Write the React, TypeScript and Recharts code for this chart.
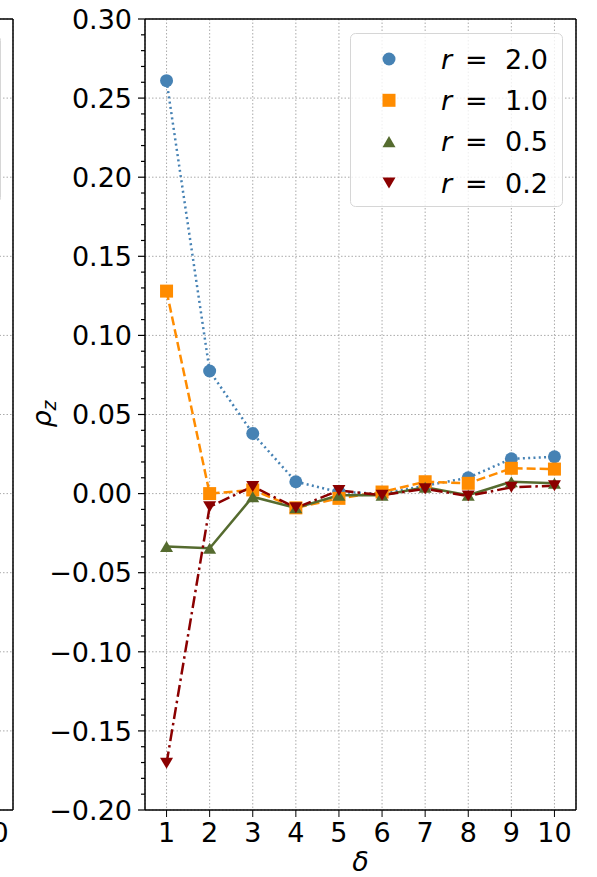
import { LineChart, Line, XAxis, YAxis, CartesianGrid, ReferenceLine, Legend } from 'recharts'

const deltas = [1, 2, 3, 4, 5, 6, 7, 8, 9, 10]
const r20 = [0.261, 0.0775, 0.038, 0.0075, 0.001, 0.0, 0.005, 0.01, 0.022, 0.0233]
const r10 = [0.128, 0.0, 0.0023, -0.009, -0.003, 0.001, 0.0075, 0.0065, 0.016, 0.0155]
const r05 = [-0.0335, -0.0345, -0.002, -0.009, -0.001, -0.001, 0.004, -0.001, 0.0075, 0.0065]
const r02 = [-0.1705, -0.0083, 0.0045, -0.009, 0.002, -0.001, 0.003, -0.0015, 0.004, 0.005]

const yMajor = [-0.2, -0.15, -0.1, -0.05, 0, 0.05, 0.1, 0.15, 0.2, 0.25, 0.3]
// minor ticks every 0.01
const yMinor = Array.from({ length: 51 }, (_, i) => Math.round((-0.2 + i * 0.01) * 100) / 100)
// the neighbouring subplot only shows the end of its last tick label
const leftTicks = [10]

const series = [
  { key: 'r20', label: '2.0', color: '#4682b4', shape: 'circle', dash: '2 3.3' },
  { key: 'r10', label: '1.0', color: '#ff8c00', shape: 'square', dash: '9 4' },
  { key: 'r05', label: '0.5', color: '#556b2f', shape: 'up', dash: undefined },
  { key: 'r02', label: '0.2', color: '#8b0000', shape: 'down', dash: '12 4 2.5 4' },
]

const data = deltas.map((d, i) => ({ delta: d, r20: r20[i], r10: r10[i], r05: r05[i], r02: r02[i] }))

const FONT = 'DejaVu Sans'
const FS = 27

const fmt = (v: number) => {
  const s = Math.abs(v) < 1e-9 ? '0.00' : v.toFixed(2)
  return s.replace('-', '\u2212')
}

const marker = (shape: string, cx: number, cy: number, s: number, color: string, key?: string) => {
  if (shape === 'circle') return <circle key={key} cx={cx} cy={cy} r={s / 2} fill={color} />
  if (shape === 'square') return <rect key={key} x={cx - s / 2} y={cy - s / 2} width={s} height={s} fill={color} />
  const h = s * 0.85
  if (shape === 'up')
    return <polygon key={key} points={`${cx},${cy - h / 2} ${cx - s / 2},${cy + h / 2} ${cx + s / 2},${cy + h / 2}`} fill={color} />
  return <polygon key={key} points={`${cx},${cy + h / 2} ${cx - s / 2},${cy - h / 2} ${cx + s / 2},${cy - h / 2}`} fill={color} />
}

const YTick = ({ x, y, payload }: any) => {
  const v = payload.value
  const major = Math.abs(Math.round(v * 100)) % 5 === 0
  return (
    <g>
      <line x1={x - (major ? 7 : 4)} x2={x} y1={y} y2={y} stroke="#000" strokeWidth={1.2} />
      {major && (
        <text x={x - 13} y={y} dy="0.36em" textAnchor="end" fontSize={FS} fontFamily={FONT} fill="#000">
          {fmt(v)}
        </text>
      )}
    </g>
  )
}

const YLabel = () => (
  <text x={51} y={414} transform="rotate(-90 51 414)" textAnchor="middle" fontSize={FS} fontFamily={FONT} fill="#000">
    <tspan fontStyle="italic">ρ</tspan>
    <tspan fontStyle="italic" fontSize={19} dy={5}>z</tspan>
  </text>
)

const XLabel = (props: any) => {
  const vb = props.viewBox
  return (
    <text x={vb.x + vb.width / 2} y={vb.y + 61} textAnchor="middle" fontSize={FS} fontFamily={FONT} fontStyle="italic" fill="#000">
      δ
    </text>
  )
}

const LegendBox = () => (
  <svg width={213} height={174} style={{ display: 'block' }}>
    <rect x={0.5} y={0.5} width={212} height={173} rx={5} fill="#fff" fillOpacity={0.8} stroke="#d6d6d6" />
    {series.map((s, i) => {
      const cy = 26 + i * 41.3
      return (
        <g key={s.key}>
          {marker(s.shape, 39, cy, 13, s.color)}
          <text y={cy} dy="0.36em" fontSize={FS} fontFamily={FONT} fill="#000">
            <tspan x={91} fontStyle="italic">r</tspan>
            <tspan x={115}>=</tspan>
            <tspan x={155}>{s.label}</tspan>
          </text>
        </g>
      )
    })}
  </svg>
)

const EmptyLegend = () => (
  <svg width={200} height={168} style={{ display: 'block' }}>
    <rect x={0.5} y={0.5} width={199} height={167} rx={5} fill="#fff" fillOpacity={0.8} stroke="#d6d6d6" />
  </svg>
)

const gridProps = { stroke: '#aaa', strokeDasharray: '1.5 2' }

export default function App() {
  return (
    <div style={{ position: 'absolute', left: 0, top: 0, width: 597, height: 877, overflow: 'hidden', background: '#fff' }}>
      {/* right edge of the neighbouring subplot */}
      <div style={{ position: 'absolute', left: -457, top: 0 }}>
        <LineChart width={471} height={877} data={data} margin={{ top: 19, right: 1, bottom: 0, left: 40 }}>
          <CartesianGrid {...gridProps} horizontalValues={yMajor} />
          <XAxis
            dataKey="delta"
            type="number"
            domain={[0.5, 10.5]}
            ticks={leftTicks}
            interval={0}
            height={67}
            tickSize={7}
            tickMargin={6}
            axisLine={{ stroke: '#000', strokeWidth: 1.5 }}
            tickLine={{ stroke: '#000' }}
            tick={{ fill: '#000', fontSize: FS, fontFamily: FONT }}
          />
          <YAxis type="number" domain={[-0.2, 0.3]} hide allowDataOverflow />
          <ReferenceLine y={0.3} stroke="#000" strokeWidth={1.5} />
          <ReferenceLine x={10.5} stroke="#000" strokeWidth={1.5} />
          <Legend
            verticalAlign="middle"
            align="center"
            content={<EmptyLegend />}
            wrapperStyle={{ left: 258, top: 35, width: 200, height: 168 }}
          />
        </LineChart>
      </div>

      <div style={{ position: 'absolute', left: 0, top: 0 }}>
        <LineChart width={597} height={877} data={data} margin={{ top: 19, right: 21, bottom: 0, left: 0 }}>
          <CartesianGrid {...gridProps} horizontalValues={yMajor} />
          <XAxis
            dataKey="delta"
            type="number"
            domain={[0.5, 10.5]}
            ticks={deltas}
            interval={0}
            height={67}
            tickSize={7}
            tickMargin={6}
            axisLine={{ stroke: '#000', strokeWidth: 1.5 }}
            tickLine={{ stroke: '#000' }}
            tick={{ fill: '#000', fontSize: FS, fontFamily: FONT }}
            label={{ value: 'δ', content: XLabel }}
          />
          <YAxis
            type="number"
            domain={[-0.2, 0.3]}
            ticks={yMinor}
            interval={0}
            width={145}
            tickSize={0}
            tickMargin={0}
            tickLine={false}
            axisLine={{ stroke: '#000', strokeWidth: 1.5 }}
            tick={<YTick />}
            allowDataOverflow
            label={{ value: 'ρz', content: YLabel }}
          />
          <ReferenceLine y={0.3} stroke="#000" strokeWidth={1.5} />
          <ReferenceLine x={10.5} stroke="#000" strokeWidth={1.5} />
          {series.map((s) => (
            <Line
              key={s.key}
              dataKey={s.key}
              stroke={s.color}
              strokeWidth={2.5}
              strokeDasharray={s.dash}
              isAnimationActive={false}
              dot={(p: any) => marker(s.shape, p.cx, p.cy, 13, s.color, `${s.key}-${p.index}`)}
              activeDot={false}
            />
          ))}
          <Legend
            verticalAlign="middle"
            align="center"
            content={<LegendBox />}
            wrapperStyle={{ left: 350, top: 33, width: 213, height: 174 }}
          />
        </LineChart>
      </div>
    </div>
  )
}
